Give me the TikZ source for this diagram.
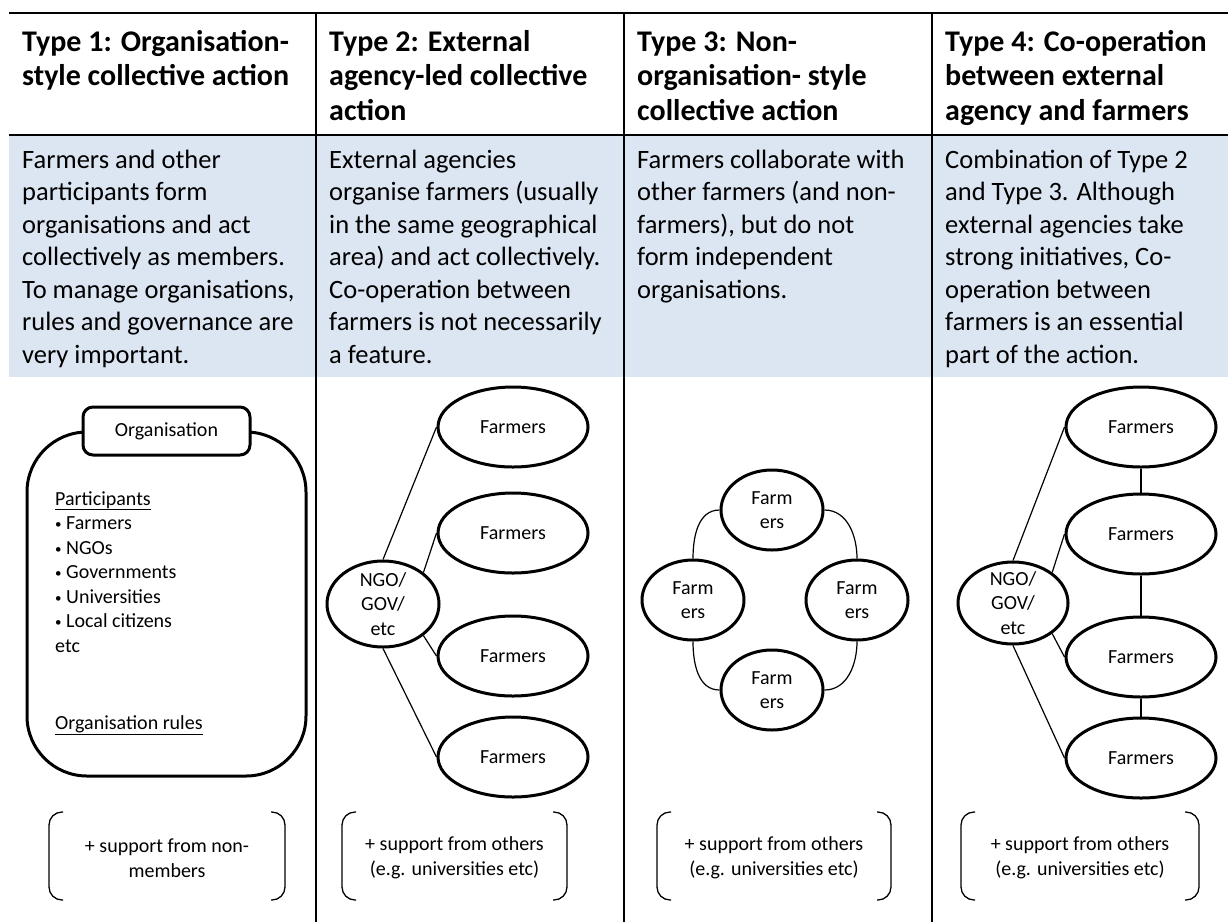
\documentclass[tikz,border=0pt]{standalone}
\usepackage{fontspec}
\setmainfont{Carlito}
\usetikzlibrary{shapes.geometric}
\definecolor{bandblue}{RGB}{220,230,242}
\tikzset{
  hdr/.style={font=\bfseries\fontsize{30}{34}\selectfont, anchor=base west, inner sep=0},
  bodytxt/.style={font=\fontsize{26.5}{32.5}\selectfont, anchor=base west, inner sep=0},
  smalltxt/.style={font=\fontsize{20}{24.5}\selectfont, inner sep=0},
  tablerule/.style={line width=1.5pt},
  ell/.style={ellipse, draw, line width=3pt, inner sep=0, fill=white},
  farm/.style={ell, minimum width=150, minimum height=80},
  agency/.style={ell, minimum width=112, minimum height=86},
  farmsmall/.style={ell, minimum width=102, minimum height=80},
  link/.style={line width=1.2pt},
  bracketline/.style={line width=1.3pt, rounded corners=13pt},
  inlbl/.style={font=\fontsize{20}{24.5}\selectfont, align=center, inner sep=0},
}
\newcommand\tlines[6]{%
  \foreach \s [count=\i from 0] in {#6} \node[#5] (#1\i) at (#2, {#3+\i*#4}) {\s};}
\newcommand\bracketpair[4]{%
  \draw[bracketline] ({#1+14},812) -- (#1,812) -- (#1,900) -- ({#1+14},900);
  \draw[bracketline] ({#2-14},812) -- (#2,812) -- (#2,900) -- ({#2-14},900);
  \node[smalltxt, align=center] (#3) at ({(#1+#2)/2},858) {#4};}
\newcommand\blt{\makebox[11pt][l]{\raisebox{1pt}{\fontsize{13}{13}\selectfont\textbullet}}}
\begin{document}
\begin{tikzpicture}[x=1pt,y=-1pt]
\useasboundingbox (0,0) rectangle (1228,922);
% table
\fill[bandblue] (9,135) rectangle (1228,377);
\draw[tablerule] (9,13) -- (1228,13);
\draw[tablerule] (9,135) -- (1228,135);
\foreach \x in {316,624,932} \draw[tablerule] (\x,13) -- (\x,922);
% headers
\tlines{ha}{22}{51}{34.5}{hdr}{Type 1: Organisation-,style collective action}
\tlines{hb}{329}{51}{34.5}{hdr}{Type 2: External,agency-led collective,action}
\tlines{hc}{637}{51}{34.5}{hdr}{Type 3: Non-,organisation- style,collective action}
\tlines{hd}{945}{51}{34.5}{hdr}{Type 4: Co-operation,between external,agency and farmers}
% descriptions
\tlines{ba}{22}{168}{32.5}{bodytxt}{Farmers and other,participants form,organisations and act,collectively as members.,{To manage organisations,},rules and governance are,very important.}
\tlines{bb}{329}{168}{32.5}{bodytxt}{External agencies,organise farmers (usually,in the same geographical,area) and act collectively.,Co-operation between,farmers is not necessarily,a feature.}
\tlines{bc}{637}{168}{32.5}{bodytxt}{Farmers collaborate with,other farmers (and non-,{farmers), but do not},form independent,organisations.}
\tlines{bd}{945}{168}{32.5}{bodytxt}{Combination of Type 2,and Type 3. Although,external agencies take,{strong initiatives, Co-},operation between,farmers is an essential,part of the action.}
% column 1: organisation
\draw[line width=3pt, rounded corners=60pt] (27,432) rectangle (306,776);
\node[draw, line width=3pt, rounded corners=10pt, fill=white, minimum width=167, minimum height=48, inner sep=0, font=\fontsize{20}{24.5}\selectfont] (org) at (166.5,431) {Organisation};
\tlines{p}{55}{505}{24.5}{smalltxt, anchor=base west}{\underline{Participants},\blt Farmers,\blt NGOs,\blt Governments,\blt Universities,\blt Local citizens,etc}
\node[smalltxt, anchor=base west] (rules) at (55,729) {\underline{Organisation rules}};
% column 2
\node[agency, label={[inlbl]center:NGO/\\GOV/\\etc}] (n2) at (383,604) {};
\node[farm] (f21) at (513,427) {\fontsize{20}{24.5}\selectfont Farmers};
\node[farm] (f22) at (513,533) {\fontsize{20}{24.5}\selectfont Farmers};
\node[farm] (f23) at (513,656) {\fontsize{20}{24.5}\selectfont Farmers};
\node[farm] (f24) at (513,757) {\fontsize{20}{24.5}\selectfont Farmers};
\draw[link] (n2.north) -- (f21.west);
\draw[link] (n2.38) -- (f22.west);
\draw[link] (n2.-38) -- (f23.west);
\draw[link] (n2.south) -- (f24.west);
% column 3
\node[farmsmall, label={[inlbl]center:Farm\\ers}] (t3) at (772,510) {};
\node[farmsmall, label={[inlbl]center:Farm\\ers}] (l3) at (693,600) {};
\node[farmsmall, label={[inlbl]center:Farm\\ers}] (r3) at (857,600) {};
\node[farmsmall, label={[inlbl]center:Farm\\ers}] (b3) at (772,690) {};
\draw[link] (t3.west) to[out=180,in=90] (l3.north);
\draw[link] (l3.south) to[out=-90,in=180] (b3.west);
\draw[link] (b3.east) to[out=0,in=-90] (r3.south);
\draw[link] (r3.north) to[out=90,in=0] (t3.east);
% column 4
\node[agency, minimum width=110, minimum height=82, label={[inlbl]center:NGO/\\GOV/\\etc}] (n4) at (1013,603) {};
\node[farm] (f41) at (1141,427) {\fontsize{20}{24.5}\selectfont Farmers};
\node[farm] (f42) at (1141,534) {\fontsize{20}{24.5}\selectfont Farmers};
\node[farm] (f43) at (1141,657) {\fontsize{20}{24.5}\selectfont Farmers};
\node[farm] (f44) at (1141,758) {\fontsize{20}{24.5}\selectfont Farmers};
\draw[link] (n4.north) -- (f41.west);
\draw[link] (n4.38) -- (f42.west);
\draw[link] (n4.-38) -- (f43.west);
\draw[link] (n4.south) -- (f44.west);
\draw[link] (f41.south) -- (f42.north);
\draw[link] (f42.south) -- (f43.north);
\draw[link] (f43.south) -- (f44.north);
% support brackets
\bracketpair{49}{285}{s1}{+ support from non-\\members}
\bracketpair{342}{567}{s2}{+ support from others\\(e.g. universities etc)}
\bracketpair{657}{891}{s3}{+ support from others\\(e.g. universities etc)}
\bracketpair{961}{1199}{s4}{+ support from others\\(e.g. universities etc)}
\end{tikzpicture}
\end{document}
